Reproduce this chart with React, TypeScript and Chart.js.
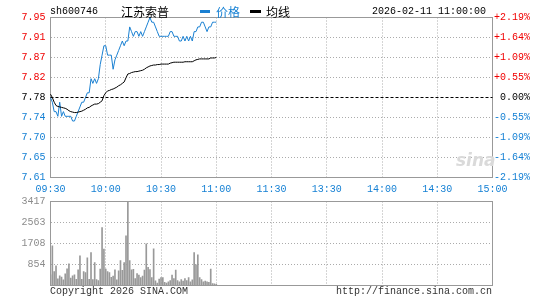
import React, { useEffect, useRef } from 'react';
import { Chart, registerables } from 'chart.js';

Chart.register(...registerables);

// ---- data ----
const timeLabels = ['09:30', '10:00', '10:30', '11:00', '11:30', '13:30', '14:00', '14:30', '15:00'];
const priceLabels = ['7.61', '7.65', '7.70', '7.74', '7.78', '7.82', '7.87', '7.91', '7.95'];
const pctLabels = ['-2.19%', '-1.64%', '-1.09%', '-0.55%', '0.00%', '+0.55%', '+1.09%', '+1.64%', '+2.19%'];
const volLabels = ['', '854', '1708', '2563', '3417'];

const prevClose = 7.78;
const priceMin = 7.61;
const priceMax = 7.95;
const volMax = 3417;
const totalMinutes = 240;

// one value per minute from 09:30 to 11:00
const price = [
  7.78, 7.77, 7.75, 7.75, 7.74, 7.77, 7.74, 7.75, 7.74, 7.74,
  7.74, 7.74, 7.73, 7.73, 7.74, 7.75, 7.76, 7.77, 7.77, 7.78,
  7.79, 7.79, 7.82, 7.81, 7.82, 7.81, 7.82, 7.85, 7.87, 7.89,
  7.89, 7.87, 7.87, 7.87, 7.84, 7.86, 7.87, 7.88, 7.89, 7.90,
  7.89, 7.90, 7.90, 7.93, 7.92, 7.91, 7.92, 7.92, 7.91, 7.92,
  7.91, 7.92, 7.93, 7.94, 7.95, 7.94, 7.94, 7.93, 7.92, 7.91,
  7.91, 7.91, 7.91, 7.91, 7.91, 7.92, 7.92, 7.91, 7.91, 7.91,
  7.90, 7.90, 7.91, 7.90, 7.91, 7.90, 7.91, 7.90, 7.92, 7.92,
  7.93, 7.93, 7.94, 7.94, 7.93, 7.92, 7.93, 7.93, 7.94, 7.94,
  7.94,
];

const avgPrice = [
  7.787, 7.780, 7.770, 7.763, 7.761, 7.760, 7.759, 7.758, 7.757, 7.755,
  7.752, 7.750, 7.749, 7.748, 7.748, 7.749, 7.750, 7.751, 7.753, 7.755,
  7.758, 7.759, 7.762, 7.764, 7.766, 7.766, 7.767, 7.770, 7.773, 7.784,
  7.790, 7.794, 7.795, 7.797, 7.798, 7.800, 7.802, 7.805, 7.807, 7.810,
  7.813, 7.822, 7.830, 7.831, 7.833, 7.834, 7.835, 7.835, 7.836, 7.837,
  7.838, 7.840, 7.843, 7.845, 7.847, 7.848, 7.849, 7.849, 7.850, 7.850,
  7.851, 7.851, 7.851, 7.851, 7.851, 7.853, 7.854, 7.855, 7.855, 7.855,
  7.855, 7.855, 7.855, 7.856, 7.856, 7.856, 7.856, 7.856, 7.858, 7.860,
  7.861, 7.862, 7.862, 7.862, 7.862, 7.862, 7.862, 7.864, 7.864, 7.864,
  7.865,
];

const volume = [
  435, 1615, 570, 800, 272, 395, 340, 232, 476, 680,
  883, 300, 395, 435, 250, 638, 1208, 250, 570, 530,
  1127, 250, 1343, 240, 936, 240, 200, 666, 2360, 1480,
  666, 570, 530, 330, 380, 640, 230, 600, 1017, 620,
  936, 2020, 3417, 1017, 640, 660, 280, 480, 420, 320,
  380, 625, 1695, 740, 650, 320, 1492, 190, 100, 260,
  320, 320, 130, 100, 150, 200, 420, 280, 625, 200,
  150, 240, 180, 280, 200, 320, 150, 230, 1343, 840,
  1250, 320, 240, 150, 180, 150, 130, 666, 80, 70,
  50,
];

// ---- styles ----
const RED = '#f00000';
const BLUE = '#1580d4';
const LINE_BLUE = '#1a80d2';
const GRID = '#ababab';
const FRAME = '#999999';
const MONO = '"Liberation Mono", "DejaVu Sans Mono", monospace';
const CJK = '"Noto Sans CJK SC", sans-serif';

const clear = 'rgba(0,0,0,0)';

const framePlugin = {
  id: 'frame',
  beforeDatasetsDraw(chart: any) {
    const { ctx, chartArea } = chart;
    ctx.save();
    ctx.strokeStyle = FRAME;
    ctx.lineWidth = 1;
    ctx.setLineDash([]);
    ctx.strokeRect(chartArea.left, chartArea.top, chartArea.right - chartArea.left, chartArea.bottom - chartArea.top);
    ctx.restore();
  },
};

const timeTicks = (scale: any) => {
  scale.ticks = timeLabels.map((_, i) => ({ value: (i * totalMinutes) / (timeLabels.length - 1) }));
};
const priceTicks = (scale: any) => {
  scale.ticks = priceLabels.map((_, i) => ({ value: priceMin + (i * (priceMax - priceMin)) / (priceLabels.length - 1) }));
};
const volTicks = (scale: any) => {
  scale.ticks = volLabels.map((_, i) => ({ value: (i * volMax) / (volLabels.length - 1) }));
};

const tickColor = (ctx: any) => (ctx.index > 4 ? RED : ctx.index === 4 ? '#000' : BLUE);

export default function App() {
  const priceRef = useRef<HTMLCanvasElement>(null);
  const volRef = useRef<HTMLCanvasElement>(null);

  useEffect(() => {
    const font = { family: MONO, size: 10 };
    const priceChart = new Chart(priceRef.current as HTMLCanvasElement, {
      type: 'line',
      data: {
        datasets: [
          {
            data: [{ x: 0, y: prevClose }, { x: totalMinutes, y: prevClose }],
            borderColor: '#000',
            borderWidth: 1,
            borderDash: [3, 2],
            pointRadius: 0,
          },
          {
            data: avgPrice.map((v, i) => ({ x: i, y: v })),
            borderColor: '#000',
            borderWidth: 1,
            pointRadius: 0,
          },
          {
            data: price.map((v, i) => ({ x: i, y: v })),
            borderColor: LINE_BLUE,
            borderWidth: 1,
            pointRadius: 0,
          },
        ],
      },
      options: {
        animation: false,
        responsive: false,
        devicePixelRatio: 1,
        layout: { padding: { top: 17.5, right: 15, left: 0, bottom: 0 } },
        plugins: { legend: { display: false }, tooltip: { enabled: false } },
        elements: { line: { tension: 0 } },
        datasets: { line: { clip: 3 } } as any,
        scales: {
          x: {
            type: 'linear',
            min: 0,
            max: totalMinutes,
            afterBuildTicks: timeTicks,
            afterFit: (s: any) => { s.height = 22.5; },
            border: { display: false, dash: [1, 2] },
            grid: {
              drawTicks: false,
              color: (c: any) => (c.index === 0 || c.index === timeLabels.length - 1 ? clear : GRID),
            },
            ticks: {
              autoSkip: false,
              maxRotation: 0,
              padding: 6,
              color: BLUE,
              font,
              callback: (_v: any, i: number) => timeLabels[i],
            },
          },
          y: {
            position: 'left',
            min: priceMin,
            max: priceMax,
            afterBuildTicks: priceTicks,
            afterFit: (s: any) => { s.width = 50.5; },
            border: { display: false, dash: [1, 2] },
            grid: {
              drawTicks: false,
              color: (c: any) => (c.index === 0 || c.index === 4 || c.index === 8 ? clear : GRID),
            },
            ticks: {
              autoSkip: false,
              padding: 5,
              color: tickColor,
              font,
              callback: (_v: any, i: number) => priceLabels[i],
            },
          },
          y2: {
            position: 'right',
            min: priceMin,
            max: priceMax,
            afterBuildTicks: priceTicks,
            afterFit: (s: any) => { s.width = 37.5; },
            border: { display: false },
            grid: { display: false, drawTicks: false },
            ticks: {
              autoSkip: false,
              crossAlign: 'far',
              padding: 2,
              color: tickColor,
              font,
              callback: (_v: any, i: number) => pctLabels[i],
            },
          },
        },
      } as any,
      plugins: [framePlugin],
    });

    const volChart = new Chart(volRef.current as HTMLCanvasElement, {
      type: 'bar',
      data: {
        datasets: [
          {
            data: volume.map((v, i) => ({ x: i, y: v })),
            backgroundColor: FRAME,
            barThickness: 1,
          } as any,
        ],
      },
      options: {
        animation: false,
        responsive: false,
        devicePixelRatio: 1,
        layout: { padding: { top: 11.5, right: 52.5, left: 0, bottom: 0 } },
        plugins: { legend: { display: false }, tooltip: { enabled: false } },
        scales: {
          x: {
            type: 'linear',
            min: 0,
            max: totalMinutes,
            offset: false,
            afterBuildTicks: timeTicks,
            afterFit: (s: any) => { s.height = 14.5; },
            border: { display: false, dash: [1, 2] },
            grid: {
              drawTicks: false,
              offset: false,
              color: (c: any) => (c.index === 0 || c.index === timeLabels.length - 1 ? clear : GRID),
            },
            ticks: { display: false },
          },
          y: {
            min: 0,
            max: volMax,
            afterBuildTicks: volTicks,
            afterFit: (s: any) => { s.width = 50.5; },
            border: { display: false, dash: [1, 2] },
            grid: {
              drawTicks: false,
              color: (c: any) => (c.index === 0 || c.index === volLabels.length - 1 ? clear : GRID),
            },
            ticks: {
              autoSkip: false,
              padding: 5,
              color: '#8c8c8c',
              font,
              callback: (_v: any, i: number) => volLabels[i],
            },
          },
        },
      } as any,
      plugins: [framePlugin],
    });

    return () => {
      priceChart.destroy();
      volChart.destroy();
    };
  }, []);

  const txt = (extra: any) => ({
    position: 'absolute' as const,
    whiteSpace: 'pre' as const,
    fontFamily: MONO,
    fontSize: 10,
    lineHeight: '12px',
    ...extra,
  });

  return (
    <div style={{ position: 'fixed', left: 0, top: 0, width: 545, height: 300, background: '#fff', overflow: 'hidden' }}>
      <canvas ref={priceRef} width={545} height={200} style={{ position: 'absolute', left: 0, top: 0, width: 545, height: 200 }} />
      <canvas ref={volRef} width={545} height={110} style={{ position: 'absolute', left: 0, top: 190, width: 545, height: 110 }} />
      <span style={txt({ left: 50, top: 6, color: '#000' })}>sh600746</span>
      <span style={txt({ left: 121, top: 4, color: '#000', fontFamily: CJK, fontSize: 12, lineHeight: '15px' })}>江苏索普</span>
      <span style={{ position: 'absolute', left: 200, top: 10, width: 10, height: 3, background: LINE_BLUE }} />
      <span style={txt({ left: 216, top: 4, color: BLUE, fontFamily: CJK, fontSize: 12, lineHeight: '15px' })}>价格</span>
      <span style={{ position: 'absolute', left: 250, top: 10, width: 11, height: 3, background: '#000' }} />
      <span style={txt({ left: 266, top: 4, color: '#000', fontFamily: CJK, fontSize: 12, lineHeight: '15px' })}>均线</span>
      <span style={txt({ right: 59, top: 6, color: '#000' })}>2026-02-11 11:00:00</span>
      <span style={{ position: 'absolute', left: 456, top: 150, fontFamily: '"DejaVu Sans", sans-serif', fontStyle: 'italic', fontWeight: 'bold', fontSize: 17, color: '#dadada', lineHeight: '20px' }}>sina</span>
      <span style={txt({ left: 50, top: 286, color: '#333' })}>Copyright 2026 SINA.COM</span>
      <span style={txt({ right: 53, top: 286, color: '#333' })}>http://finance.sina.com.cn</span>
    </div>
  );
}
